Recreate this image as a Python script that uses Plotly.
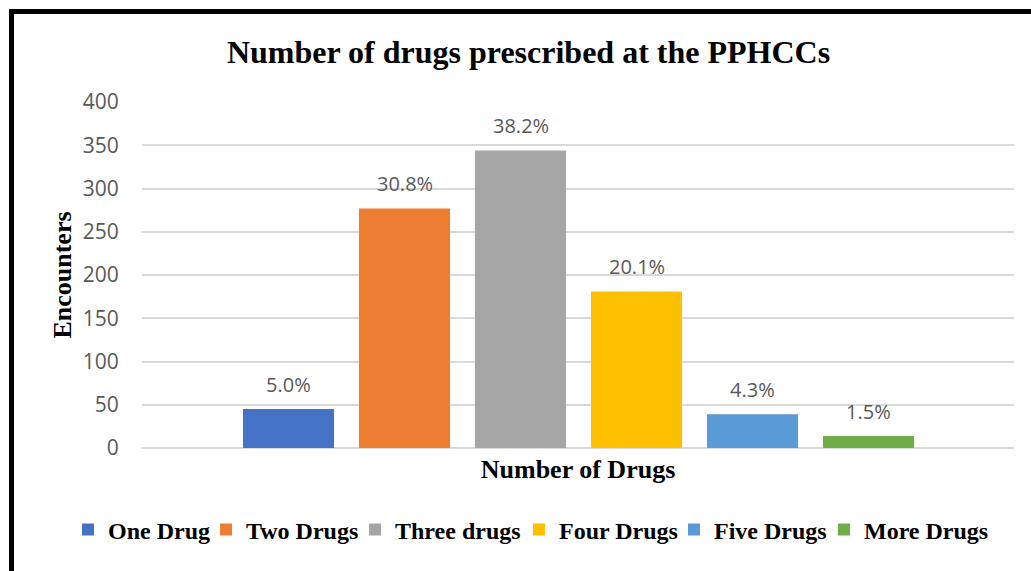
import plotly.graph_objects as go

categories = ["One Drug", "Two Drugs", "Three drugs", "Four Drugs", "Five Drugs", "More Drugs"]
encounters = [45, 277, 344, 181, 39, 14]
pct_labels = ["5.0%", "30.8%", "38.2%", "20.1%", "4.3%", "1.5%"]
colors = ["#4472C4", "#ED7D31", "#A5A5A5", "#FFC000", "#5B9BD5", "#70AD47"]
y_ticks = [0, 50, 100, 150, 200, 250, 300, 350, 400]

SERIF = "Liberation Serif, Times New Roman, serif"
SANS = "Open Sans, Noto Sans, sans-serif"

W, H = 1031, 571
ml, mr, mt, mb = 142, 17, 102, 123
pw, ph = W - ml - mr, H - mt - mb

def px_x(p):
    return (p - ml) / pw

def px_y(p):
    return (H - mb - p) / ph

# left pixel of each legend swatch (layout only)
legend_left_px = [86, 224, 373, 537, 692, 842]
legend_ids = ["legend"] + ["legend%d" % i for i in range(2, 7)]

fig = go.Figure()
for cat, val, col, lid in zip(categories, encounters, colors, legend_ids):
    fig.add_trace(go.Bar(
        x=[cat], y=[val], name="<b>" + cat + "</b>", width=0.785,
        marker=dict(color=col, line=dict(width=0)),
        hoverinfo="skip", legend=lid,
    ))

for cat, val, lab in zip(categories, encounters, pct_labels):
    fig.add_annotation(
        x=cat, y=val, text=lab, showarrow=False, yanchor="bottom",
        yshift=9, font=dict(family=SANS, size=20, color="#595959"),
    )

fig.add_shape(
    type="rect", xref="paper", yref="paper",
    x0=px_x(11.5), x1=px_x(1050), y0=px_y(11.5), y1=px_y(600),
    line=dict(color="black", width=5), fillcolor="rgba(0,0,0,0)",
)

legend_layout = {}
for lid, lx in zip(legend_ids, legend_left_px):
    legend_layout[lid] = dict(
        orientation="h", x=px_x(lx - 18), xanchor="left",
        y=px_y(530), yanchor="middle",
        font=dict(family=SERIF, size=24, color="black"),
        itemclick=False, itemdoubleclick=False,
        bgcolor="rgba(0,0,0,0)", borderwidth=0,
    )

fig.update_layout(
    width=W, height=H,
    margin=dict(l=ml, r=mr, t=mt, b=mb, autoexpand=False),
    paper_bgcolor="white", plot_bgcolor="white",
    barmode="overlay",
    title=dict(
        text="<b>Number of drugs prescribed at the PPHCCs</b>",
        font=dict(family=SERIF, size=32, color="black"),
        x=528.5 / W, xref="container", xanchor="center",
        y=1 - 52 / H, yref="container", yanchor="middle",
    ),
    xaxis=dict(
        type="category", categoryorder="array", categoryarray=categories,
        range=[-1.263, 6.254], showticklabels=False, ticks="",
        showgrid=False, zeroline=False, showline=False,
        title=dict(text="<b>Number of Drugs</b>",
                   font=dict(family=SERIF, size=26, color="black"), standoff=11),
    ),
    yaxis=dict(
        range=[0, 400], tickvals=y_ticks, showgrid=True,
        gridcolor="#D9D9D9", gridwidth=1.5, zeroline=True,
        zerolinecolor="#D9D9D9", zerolinewidth=1.5, showline=False,
        ticks="outside", ticklen=18, tickcolor="rgba(0,0,0,0)",
        tickfont=dict(family=SANS, size=21, color="#595959"),
        title=dict(text="<b>Encounters</b>",
                   font=dict(family=SERIF, size=26, color="black"), standoff=3),
    ),
    showlegend=True,
    **legend_layout,
)

fig.write_html("out.html")
